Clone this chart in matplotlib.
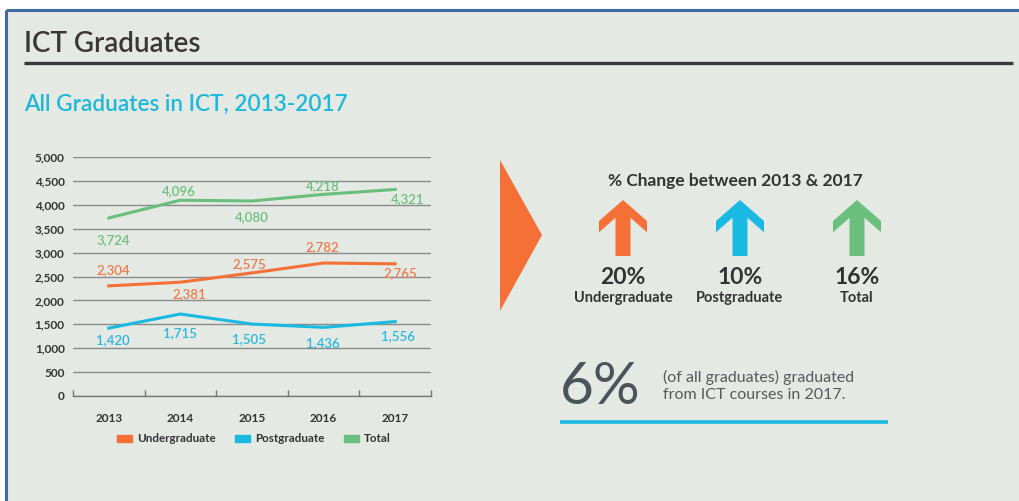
import matplotlib
matplotlib.use("Agg")
import matplotlib.pyplot as plt
from matplotlib.patches import Polygon, Rectangle

plt.rcParams['font.family'] = ['Lato', 'DejaVu Sans']

# data
years = ['2013', '2014', '2015', '2016', '2017']
undergrad = [2304, 2381, 2575, 2782, 2765]
postgrad = [1420, 1715, 1505, 1436, 1556]
total = [3724, 4096, 4080, 4218, 4321]
yticks = [0, 500, 1000, 1500, 2000, 2500, 3000, 3500, 4000, 4500, 5000]
change_pct = ['20%', '10%', '16%']
change_names = ['Undergraduate', 'Postgraduate', 'Total']
share_pct = '6%'
share_text = '(of all graduates) graduated\nfrom ICT courses in 2017.'

ORANGE = '#f47036'
BLUE = '#19b9e2'
GREEN = '#69bf7b'
BG = '#e4e9e4'
DARK = '#333333'

W, H = 1020, 501
fig = plt.figure(figsize=(10.2, 5.01), dpi=100)
fig.patch.set_facecolor('white')

# overlay in pixel coordinates for panel decoration
ov = fig.add_axes([0, 0, 1, 1])
ov.set_xlim(0, W)
ov.set_ylim(H, 0)
ov.axis('off')
ov.add_patch(Rectangle((6, 10), W, H, facecolor=BG, edgecolor='none', zorder=0))
ov.plot([6, W], [10, 10], color='#3f6aa1', lw=2.2, zorder=1, solid_capstyle='butt')
ov.plot([6, 6], [10, H], color='#3f6aa1', lw=2.2, zorder=1, solid_capstyle='butt')

ov.text(24, 44, 'ICT Graduates', fontsize=20, color='#3a3636', va='center', ha='left',
        fontweight='semibold')
ov.plot([24, 1013], [63, 63], color='#3a3a3a', lw=2.4, solid_capstyle='butt')
ov.text(24, 104, 'All Graduates in ICT, 2013-2017', fontsize=16.2, color='#1db8da',
        va='center', ha='left', fontweight='semibold')

# orange pointer triangle
ov.add_patch(Polygon([(500, 160), (542, 235), (500, 311)], closed=True,
                     facecolor=ORANGE, edgecolor='none'))

ov.text(735, 181, '% Change between 2013 & 2017', fontsize=12.5, color=DARK,
        ha='center', va='center', fontweight='bold')

arrow_shape = [(0, 0), (-24, 21), (-24, 32.3), (-7.5, 17.7), (-7.5, 56),
               (7.5, 56), (7.5, 17.7), (24, 32.3), (24, 21)]
for cx, col, pct, name in zip([623, 740, 857], [ORANGE, BLUE, GREEN], change_pct, change_names):
    ov.add_patch(Polygon([(cx + dx, 200 + dy) for dx, dy in arrow_shape], closed=True,
                         facecolor=col, edgecolor='none'))
    ov.text(cx, 278, pct, fontsize=16.5, color=DARK, ha='center', va='center', fontweight='bold')
    ov.text(cx, 298, name, fontsize=10.5, color=DARK, ha='center', va='center', fontweight='bold')

ov.text(560, 388, share_pct, fontsize=42, color='#4a545a', ha='left', va='center')
ov.text(663, 386, share_text, fontsize=11.5, color='#555a5c', ha='left', va='center',
        linespacing=1.2)
ov.plot([560, 888], [422, 422], color=BLUE, lw=2.6, solid_capstyle='butt')

# line chart
ax = fig.add_axes([73 / W, 1 - 396 / H, (431 - 73) / W, (396 - 157) / H])
ax.set_facecolor('none')
x = list(range(len(years)))
ax.plot(x, undergrad, color=ORANGE, lw=2.2, label='Undergraduate', zorder=3)
ax.plot(x, postgrad, color=BLUE, lw=2.2, label='Postgraduate', zorder=3)
ax.plot(x, total, color=GREEN, lw=2.2, label='Total', zorder=3)

ax.set_xlim(-0.5, len(years) - 0.5)
ax.set_ylim(0, 5000)
ax.set_yticks(yticks)
ax.set_yticklabels([f'{v:,}' for v in yticks], fontsize=8.5, fontweight='bold', color=DARK)
ax.yaxis.grid(True, color='#8a8a8a', lw=1.0)
ax.set_axisbelow(True)
ax.tick_params(axis='y', length=0, pad=6)
ax.set_xticks(x)
ax.set_xticklabels(years, fontsize=8.5, fontweight='bold', color=DARK)
ax.set_xticks([i - 0.5 for i in range(len(years) + 1)], minor=True)
ax.tick_params(axis='x', which='major', length=0, pad=12)
ax.tick_params(axis='x', which='minor', direction='in', length=4, color='#777777', width=1)
for s in ['top', 'right', 'left']:
    ax.spines[s].set_visible(False)
ax.spines['bottom'].set_color('#777777')
ax.spines['bottom'].set_linewidth(1.0)

# label offsets in pixels (dx, dy up)
offs = {
    'u': [(4, 16), (9, -12), (-3, 9), (-1, 16), (5, -9)],
    'p': [(4, -12), (0, -19), (-3, -15), (-1, -16), (3, -15)],
    't': [(4, -22), (-2, 9), (0, -16), (-1, 8), (13, -10)],
}
lab_cols = {'u': '#f07a4a', 'p': '#2ab6de', 't': '#6cc07e'}
for key, vals in [('u', undergrad), ('p', postgrad), ('t', total)]:
    for i, v in enumerate(vals):
        dx, dy = offs[key][i]
        ax.annotate(f'{v:,}', (i, v), xytext=(dx * 0.72, dy * 0.72), textcoords='offset points',
                    ha='center', va='center', fontsize=9.5, color=lab_cols[key],
                    fontweight='semibold')

handles = [Rectangle((0, 0), 1, 1, color=c) for c in [ORANGE, BLUE, GREEN]]
fig.legend(handles, ['Undergraduate', 'Postgraduate', 'Total'], loc='center',
           bbox_to_anchor=(254 / W, 1 - 439 / H), ncol=3, frameon=False,
           handlelength=1.3, handleheight=0.5, handletextpad=0.4, columnspacing=1.7,
           prop={'size': 8.4, 'weight': 'bold'}, labelcolor=DARK)

fig.savefig('out.png', dpi=100)
